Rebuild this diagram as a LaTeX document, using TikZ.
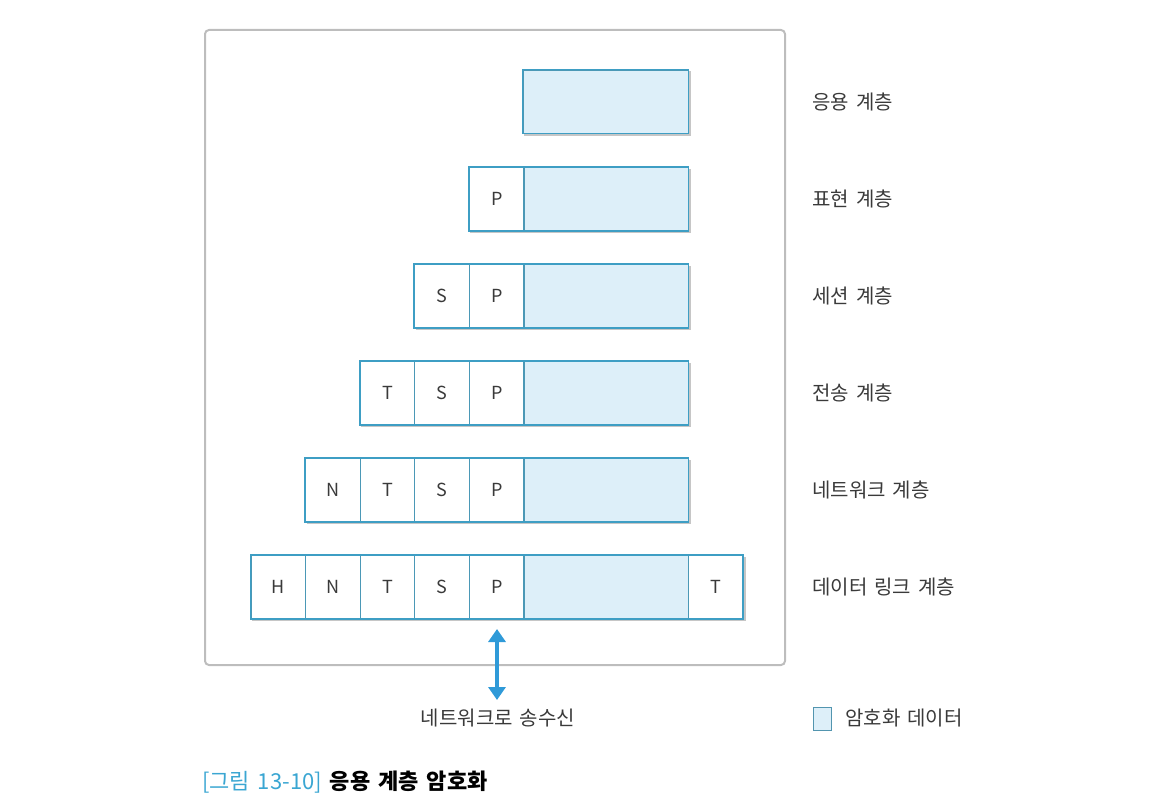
\documentclass[tikz,border=0pt]{standalone}
\usepackage{fontspec}
\setmainfont{Noto Sans CJK KR}[WordSpace=1.6]
\usetikzlibrary{arrows.meta}
\definecolor{cellline}{HTML}{3E9EC4}
\definecolor{datafill}{HTML}{DDEFF9}
\definecolor{txt}{HTML}{3A3A3A}
\definecolor{framegray}{HTML}{BDBDBD}
\definecolor{arrowblue}{HTML}{2F9AD8}
\definecolor{capblue}{HTML}{3AA6D2}
\begin{document}
\begin{tikzpicture}[x=1pt,y=-1pt,
  cell/.style={draw=cellline!80!gray, line width=1pt, minimum width=54.6pt, minimum height=63pt, inner sep=0pt, font=\fontsize{18}{21}\selectfont, text=txt},
  datacell/.style={cell, fill=datafill, minimum width=165pt},
  rowframe/.style={draw=cellline, line width=1.8pt},
  rowshadow/.style={draw=gray!45, line width=1.6pt},
  layerlabel/.style={anchor=west, font=\fontsize{20}{23}\selectfont, text=txt, inner sep=0pt}]
\useasboundingbox (0,0) rectangle (1153,808);
% frame
\draw[framegray, line width=2pt, rounded corners=4pt] (205,30) rectangle (785,665);

% row 1
\node[datacell] (d1) at (605.5,101.5) {};
\draw[rowshadow] ([shift={(1.5,1.5)}]d1.south west) -- ([shift={(1.5,1.5)}]d1.south east) -- ([shift={(1.5,1.5)}]d1.north east);
\draw[rowframe] (d1.north west) rectangle (d1.south east);
\node[layerlabel] (l1) at (812,101.5) {응용 계층};

% row 2
\node[datacell] (d2) at (605.5,199) {};
\node[cell] (p2) at (496.7,199) {P};
\draw[rowshadow] ([shift={(1.5,1.5)}]p2.south west) -- ([shift={(1.5,1.5)}]d2.south east) -- ([shift={(1.5,1.5)}]d2.north east);
\draw[rowframe] (p2.north west) rectangle (d2.south east);
\node[layerlabel] (l2) at (812,199) {표현 계층};

% row 3
\node[datacell] (d3) at (605.5,296) {};
\node[cell] (p3) at (496.7,296) {P};
\node[cell] (s3) at (442.1,296) {S};
\draw[rowshadow] ([shift={(1.5,1.5)}]s3.south west) -- ([shift={(1.5,1.5)}]d3.south east) -- ([shift={(1.5,1.5)}]d3.north east);
\draw[rowframe] (s3.north west) rectangle (d3.south east);
\node[layerlabel] (l3) at (812,296) {세션 계층};

% row 4
\node[datacell] (d4) at (605.5,393) {};
\node[cell] (p4) at (496.7,393) {P};
\node[cell] (s4) at (442.1,393) {S};
\node[cell] (t4) at (387.5,393) {T};
\draw[rowshadow] ([shift={(1.5,1.5)}]t4.south west) -- ([shift={(1.5,1.5)}]d4.south east) -- ([shift={(1.5,1.5)}]d4.north east);
\draw[rowframe] (t4.north west) rectangle (d4.south east);
\node[layerlabel] (l4) at (812,393) {전송 계층};

% row 5
\node[datacell] (d5) at (605.5,490) {};
\node[cell] (p5) at (496.7,490) {P};
\node[cell] (s5) at (442.1,490) {S};
\node[cell] (t5) at (387.5,490) {T};
\node[cell] (n5) at (332.9,490) {N};
\draw[rowshadow] ([shift={(1.5,1.5)}]n5.south west) -- ([shift={(1.5,1.5)}]d5.south east) -- ([shift={(1.5,1.5)}]d5.north east);
\draw[rowframe] (n5.north west) rectangle (d5.south east);
\node[layerlabel] (l5) at (812,490) {네트워크 계층};

% row 6
\node[datacell] (d6) at (605.5,587) {};
\node[cell] (p6) at (496.7,587) {P};
\node[cell] (s6) at (442.1,587) {S};
\node[cell] (t6) at (387.5,587) {T};
\node[cell] (n6) at (332.9,587) {N};
\node[cell] (h6) at (278.3,587) {H};
\node[cell] (tr6) at (715.5,587) {T};
\draw[rowshadow] ([shift={(1.5,1.5)}]h6.south west) -- ([shift={(1.5,1.5)}]tr6.south east) -- ([shift={(1.5,1.5)}]tr6.north east);
\draw[rowframe] (h6.north west) rectangle (tr6.south east);
\node[layerlabel] (l6) at (812,587) {데이터 링크 계층};

% network label and arrow
\node[font=\fontsize{20}{23}\selectfont, text=txt, inner sep=0pt] (net) at (498,718) {네트워크로 송수신};
\coordinate (atop) at (497,629);
\coordinate (abot) at (497,700);
\draw[arrowblue, line width=4pt, {Triangle[width=17pt,length=13pt]}-{Triangle[width=17pt,length=13pt]}] (atop) -- (abot);

% legend
\node[draw=cellline!70!gray, fill=datafill, line width=0.8pt, minimum width=18pt, minimum height=23pt, inner sep=0pt] (leg) at (822.5,719) {};
\node[layerlabel] (legt) at (845,718) {암호화 데이터};

% caption
\node[anchor=west, inner sep=0pt, font=\fontsize{22}{25}\selectfont] (cap) at (202,782) {\textcolor{capblue}{[그림 13-10]} \textcolor{black}{\bfseries 응용 계층 암호화}};
\end{tikzpicture}
\end{document}
